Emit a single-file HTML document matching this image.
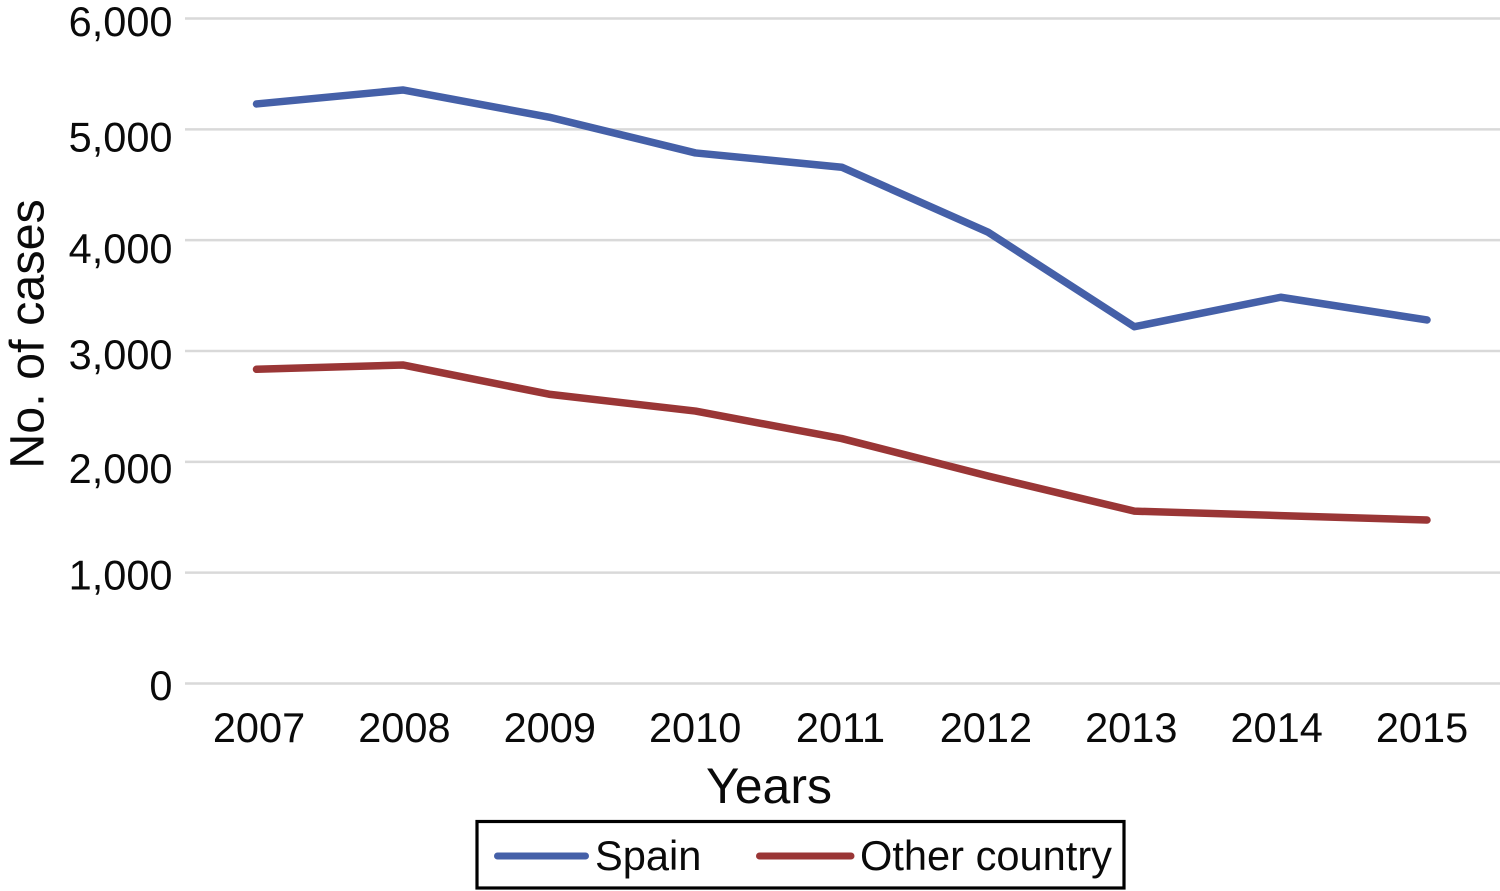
<!DOCTYPE html>
<html>
<head>
<meta charset="utf-8">
<style>
html,body{margin:0;padding:0;background:#fff;}
svg{display:block;}
text{font-family:"Liberation Sans",Arial,sans-serif;fill:#0a0a0a;}
</style>
</head>
<body>
<svg id="chart" width="1500" height="891" viewBox="0 0 1500 891" xmlns="http://www.w3.org/2000/svg">
<g id="grid"></g>
<g id="yticks"></g>
<g id="xticks"></g>
<g id="series"></g>
<text transform="translate(43.5,334) rotate(-90)" text-anchor="middle" font-size="48.5">No. of cases</text>
<text x="769" y="803" text-anchor="middle" font-size="50">Years</text>
<g>
<rect x="477" y="821.5" width="647" height="66.5" fill="#fff" stroke="#000" stroke-width="3.2"/>
<line x1="497.5" y1="856" x2="585.5" y2="856" stroke="#4560a8" stroke-width="7" stroke-linecap="round"/>
<text x="595" y="870" font-size="41.6">Spain</text>
<line x1="759.5" y1="856" x2="851" y2="856" stroke="#9a3636" stroke-width="7" stroke-linecap="round"/>
<text x="860" y="870" font-size="41.6">Other country</text>
</g>
</svg>
<script>
const categories = ["2007","2008","2009","2010","2011","2012","2013","2014","2015"];
const spainValues = [5229,5355,5110,4787,4658,4072,3219,3485,3280];
const otherCountryValues = [2835,2874,2610,2458,2210,1872,1555,1515,1475];
const yTickValues = [0,1000,2000,3000,4000,5000,6000];
const yTickLabels = ["0","1,000","2,000","3,000","4,000","5,000","6,000"];

const svgNS = "http://www.w3.org/2000/svg";
function xScale(i){ return 256.5 + i * (1427 - 256.5) / (categories.length - 1); }
function yScale(v){ return 683.5 - v * (683.5 - 18.5) / 6000; }
function xLabelPos(i){ return 259 + i * (1422 - 259) / (categories.length - 1); }

const grid = document.getElementById("grid");
const yticks = document.getElementById("yticks");
yTickValues.forEach(function(v, i){
  const labelShift = [16.5,17,21,18,23,22,17.5][i];
  const l = document.createElementNS(svgNS, "line");
  
  
  l.setAttribute("x1", 185);
  l.setAttribute("x2", 1500);
  l.setAttribute("y1", yScale(v));
  l.setAttribute("y2", yScale(v));
  l.setAttribute("stroke", "#d9d9d9");
  l.setAttribute("stroke-width", 2.5);
  grid.appendChild(l);
  const t = document.createElementNS(svgNS, "text");
  
  
  t.setAttribute("x", 172.5);
  t.setAttribute("y", yScale(v) + labelShift);
  t.setAttribute("text-anchor", "end");
  t.setAttribute("font-size", 41.5);
  t.textContent = yTickLabels[i];
  yticks.appendChild(t);
});

const xticks = document.getElementById("xticks");
categories.forEach(function(c, i){
  const t = document.createElementNS(svgNS, "text");
  
  
  t.setAttribute("x", xLabelPos(i));
  t.setAttribute("y", 742);
  t.setAttribute("text-anchor", "middle");
  t.setAttribute("font-size", 41.5);
  t.textContent = c;
  xticks.appendChild(t);
});

function pointsFor(values){
  return values.map(function(v, i){ return xScale(i) + "," + yScale(v); }).join(" ");
}
const series = document.getElementById("series");
const spainLine = document.createElementNS(svgNS, "polyline");


spainLine.setAttribute("points", pointsFor(spainValues));
spainLine.setAttribute("fill", "none");
spainLine.setAttribute("stroke", "#4560a8");
spainLine.setAttribute("stroke-width", 7.5);
spainLine.setAttribute("stroke-linecap", "round");
spainLine.setAttribute("stroke-linejoin", "round");
series.appendChild(spainLine);
const otherLine = document.createElementNS(svgNS, "polyline");


otherLine.setAttribute("points", pointsFor(otherCountryValues));
otherLine.setAttribute("fill", "none");
otherLine.setAttribute("stroke", "#9a3636");
otherLine.setAttribute("stroke-width", 7.5);
otherLine.setAttribute("stroke-linecap", "round");
otherLine.setAttribute("stroke-linejoin", "round");
series.appendChild(otherLine);
</script>
</body>
</html>
